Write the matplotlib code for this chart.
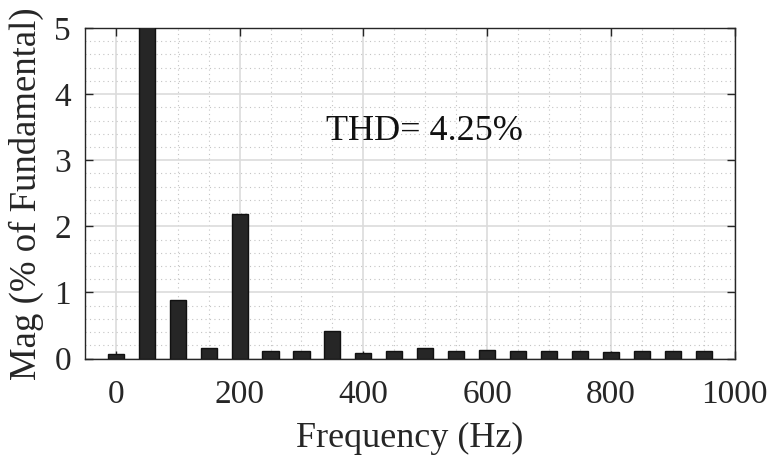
import matplotlib
matplotlib.use("Agg")
import matplotlib.pyplot as plt
import numpy as np
from matplotlib.ticker import MultipleLocator

freqs = [0, 50, 100, 150, 200, 250, 300, 350, 400, 450, 500, 550, 600, 650, 700, 750, 800, 850, 900, 950]
mags = [0.07, 100.0, 0.89, 0.16, 2.18, 0.11, 0.12, 0.42, 0.09, 0.11, 0.16, 0.11, 0.13, 0.11, 0.12, 0.11, 0.10, 0.11, 0.12, 0.11]
thd_text = "THD= 4.25%"
xticks = [0, 200, 400, 600, 800, 1000]
yticks = [0, 1, 2, 3, 4, 5]

plt.rcParams['font.family'] = ['Liberation Serif', 'DejaVu Serif']

fig = plt.figure(figsize=(7.71, 4.57), dpi=100)
ax = fig.add_axes([0.110, 0.2155, 0.843, 0.7232])

ax.bar(freqs, mags, width=26, color='#262626', edgecolor='#111111', linewidth=1.0, zorder=3)

ax.set_xlim(-50, 1000)
ax.set_ylim(0, 5)
ax.set_xticks(xticks)
ax.set_yticks(yticks)
ax.xaxis.set_minor_locator(MultipleLocator(50))
ax.yaxis.set_minor_locator(MultipleLocator(0.2))

ax.grid(which='major', color='#dcdcdc', linewidth=1.2, linestyle='-', zorder=0)
ax.grid(which='minor', color='#c4c4c4', linewidth=0.8, linestyle=(0, (1, 3)), zorder=0)
ax.set_axisbelow(True)

ax.tick_params(which='major', direction='in', length=6, width=1.0, top=True, right=True,
               labelsize=24, colors='#262626')
ax.tick_params(axis='x', which='major', pad=15)
ax.tick_params(axis='y', which='major', pad=10)
ax.tick_params(which='minor', length=0, top=True, right=True)
for s in ax.spines.values():
    s.set_color('#262626')
    s.set_linewidth(1.0)

ax.set_xlabel('Frequency (Hz)', fontsize=26, color='#262626', labelpad=9)
ax.set_ylabel('Mag (% of Fundamental)', fontsize=26.5, color='#262626', labelpad=7)

ax.text(340, 3.3, thd_text, fontsize=26, color='#111111', ha='left', va='baseline', zorder=5)

fig.savefig('out.png', dpi=100)
